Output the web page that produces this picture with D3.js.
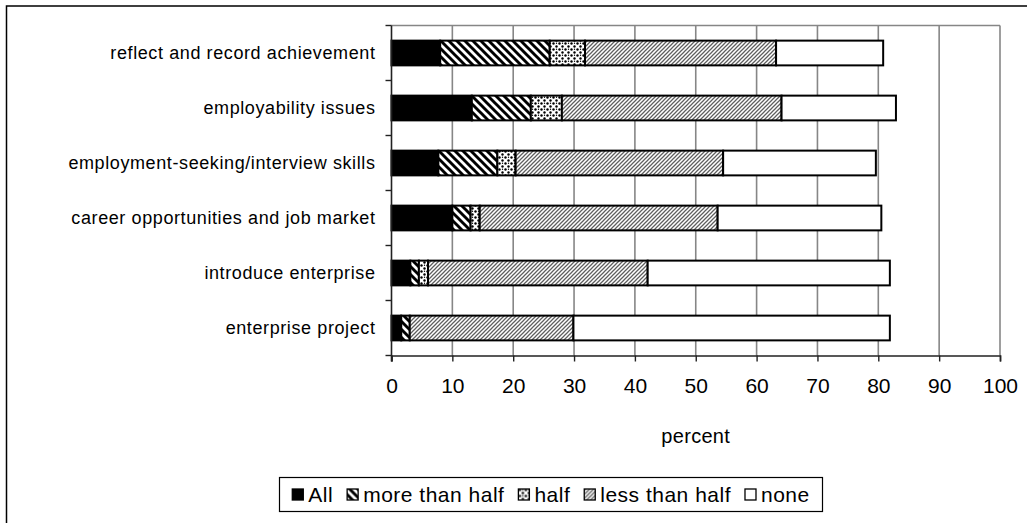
<!DOCTYPE html>
<html>
<head>
<meta charset="utf-8">
<script src="https://cdn.jsdelivr.net/npm/d3@7"></script>
<style>
  html, body { margin: 0; padding: 0; background: #fff; }
  svg { display: block; }
  text { font-family: "Liberation Sans", Arial, sans-serif; fill: #000; }
</style>
</head>
<body>
<svg id="chart" width="1027" height="523"></svg>
<script>
// Share of respondents (percent) by how much of the activity was covered
const categories = [
  "reflect and record achievement",
  "employability issues",
  "employment-seeking/interview skills",
  "career opportunities and job market",
  "introduce enterprise",
  "enterprise project"
];
const seriesNames = ["All", "more than half", "half", "less than half", "none"];
const allVals      = [8.0, 13.2, 7.7, 10.0, 3.1, 1.6];
const moreThanHalf = [18.0, 9.7, 9.7, 3.0, 1.4, 1.4];
const halfVals     = [5.8, 5.1, 3.0, 1.5, 1.5, 0.0];
const lessThanHalf = [31.4, 36.1, 34.1, 39.1, 36.1, 26.9];
const noneVals     = [17.6, 18.8, 25.1, 26.9, 39.8, 52.0];
const xTicks = [0, 10, 20, 30, 40, 50, 60, 70, 80, 90, 100];
const xTitle = "percent";

const rows = categories.map((c, i) => ({
  category: c,
  "All": allVals[i],
  "more than half": moreThanHalf[i],
  "half": halfVals[i],
  "less than half": lessThanHalf[i],
  "none": noneVals[i]
}));

const svg = d3.select("#chart");
const plot = { left: 391.5, top: 25.5, right: 1000, bottom: 355.5 };
const fontSize = 21;
const categoryFontSize = 18;

// hatch fills
const defs = svg.append("defs");
const pMore = defs.append("pattern").attr("id", "p-more")
  .attr("patternUnits", "userSpaceOnUse").attr("width", 8).attr("height", 8);
pMore.append("rect").attr("width", 8).attr("height", 8).attr("fill", "#fff");
pMore.append("path").attr("d", "M-2,-2L10,10M-2,6L2,10M6,-2L10,2")
  .attr("stroke", "#000").attr("stroke-width", 2.9);

const pHalf = defs.append("pattern").attr("id", "p-half")
  .attr("patternUnits", "userSpaceOnUse").attr("width", 6).attr("height", 6);
pHalf.append("rect").attr("width", 6).attr("height", 6).attr("fill", "#fff");
[[1.5, 1.5, 1.2], [4.5, 4.5, 1.2], [4.5, 1.2, 0.7]].forEach(([cx, cy, r]) => {
  pHalf.append("circle").attr("cx", cx).attr("cy", cy).attr("r", r).attr("fill", "#000");
});

const pLess = defs.append("pattern").attr("id", "p-less")
  .attr("patternUnits", "userSpaceOnUse").attr("width", 4).attr("height", 4);
pLess.append("rect").attr("width", 4).attr("height", 4).attr("fill", "#fff");
pLess.append("path").attr("d", "M-1,5L5,-1M-1,1L1,-1M3,5L5,3")
  .attr("stroke", "#5e5e5e").attr("stroke-width", 1.25);

const fills = {
  "All": "#000",
  "more than half": "url(#p-more)",
  "half": "url(#p-half)",
  "less than half": "url(#p-less)",
  "none": "#fff"
};

// outer chart frame
svg.append("rect").attr("x", 6.5).attr("y", 6).attr("width", 1100).attr("height", 600)
  .attr("fill", "none").attr("stroke", "#000").attr("stroke-width", 1.5);

const x = d3.scaleLinear().domain([0, 100]).range([plot.left, plot.right]);
const y = d3.scaleBand().domain(categories).range([plot.top, plot.bottom])
  .paddingInner(0.55).paddingOuter(0.275);

// vertical gridlines and plot border
svg.append("g").selectAll("line").data(xTicks.slice(1)).join("line")
  .attr("x1", d => x(d)).attr("x2", d => x(d))
  .attr("y1", plot.top).attr("y2", plot.bottom)
  .attr("stroke", "#868686").attr("stroke-width", 1.6);
svg.append("line").attr("x1", plot.left).attr("x2", plot.right)
  .attr("y1", plot.top).attr("y2", plot.top)
  .attr("stroke", "#868686").attr("stroke-width", 1.6);

// stacked bars
const stack = d3.stack().keys(seriesNames)(rows);
svg.append("g").selectAll("g").data(stack).join("g")
  .attr("fill", d => fills[d.key])
  .selectAll("rect").data(d => d.filter(s => s[1] - s[0] > 0)).join("rect")
  .attr("x", d => x(d[0]))
  .attr("width", d => x(d[1]) - x(d[0]))
  .attr("y", d => y(d.data.category))
  .attr("height", y.bandwidth())
  .attr("stroke", "#000").attr("stroke-width", 2);

// x axis
const xAxis = svg.append("g").attr("transform", `translate(0,${plot.bottom})`)
  .call(d3.axisBottom(x).tickValues(xTicks).tickSize(6).tickPadding(17).tickFormat(d3.format("d")));
xAxis.select(".domain").attr("stroke", "#222").attr("stroke-width", 1.6);
xAxis.selectAll(".tick line").attr("stroke", "#222").attr("stroke-width", 1.4);
xAxis.selectAll("text").attr("font-size", fontSize)
  .attr("font-family", "Liberation Sans, Arial, sans-serif").attr("fill", "#000");

// y axis: ticks sit on band boundaries
const yAxisG = svg.append("g");
yAxisG.append("line").attr("x1", plot.left).attr("x2", plot.left)
  .attr("y1", plot.top).attr("y2", plot.bottom + 6)
  .attr("stroke", "#222").attr("stroke-width", 1.6);
const bounds = d3.range(categories.length + 1).map(i => plot.top + i * y.step());
yAxisG.selectAll("line.tk").data(bounds).join("line").attr("class", "tk")
  .attr("x1", plot.left - 6).attr("x2", plot.left)
  .attr("y1", d => d).attr("y2", d => d)
  .attr("stroke", "#222").attr("stroke-width", 1.4);
yAxisG.selectAll("text").data(categories).join("text")
  .attr("x", plot.left - 16)
  .attr("y", d => y(d) + y.bandwidth() / 2)
  .attr("dy", "0.35em")
  .attr("text-anchor", "end")
  .attr("font-size", categoryFontSize)
  .attr("letter-spacing", 0.6)
  .text(d => d);

// axis title
svg.append("text").attr("x", (plot.left + plot.right) / 2).attr("y", 443)
  .attr("text-anchor", "middle").attr("font-size", 20).attr("letter-spacing", 0.3).text(xTitle);

// legend
const legend = svg.append("g");
const boxX = 279.5, boxY = 477.5, boxW = 543, boxH = 34;
legend.append("rect").attr("x", boxX).attr("y", boxY).attr("width", boxW).attr("height", boxH)
  .attr("fill", "#fff").attr("stroke", "#000").attr("stroke-width", 1.2);
const sw = 11, gapAfterSwatch = 5, gapAfterText = 14;
const items = legend.selectAll("g.item").data(seriesNames).join("g").attr("class", "item");
items.append("rect").attr("width", sw).attr("height", sw).attr("y", -sw / 2)
  .attr("fill", d => fills[d]).attr("stroke", "#000").attr("stroke-width", 1.3);
items.append("text").attr("x", sw + gapAfterSwatch).attr("dy", "0.35em")
  .attr("font-size", fontSize).attr("letter-spacing", 0.5).text(d => d);
const widths = [];
items.each(function () { widths.push(d3.select(this).select("text").node().getComputedTextLength()); });
const total = d3.sum(widths) + seriesNames.length * (sw + gapAfterSwatch) + (seriesNames.length - 1) * gapAfterText;
let cursor = boxX + (boxW - total) / 2;
items.attr("transform", (d, i) => {
  const t = `translate(${cursor},${boxY + boxH / 2})`;
  cursor += sw + gapAfterSwatch + widths[i] + gapAfterText;
  return t;
});
</script>
</body>
</html>
